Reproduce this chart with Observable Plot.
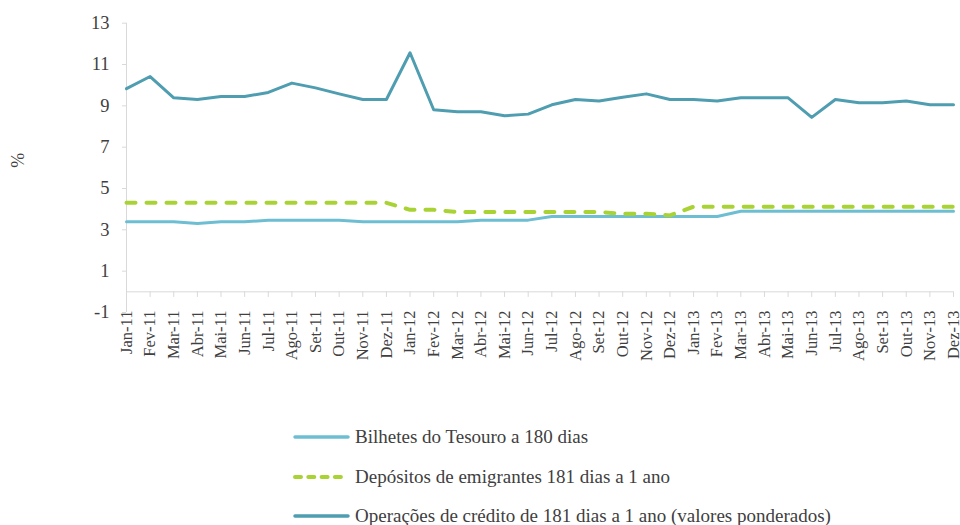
<!DOCTYPE html>
<html>
<head>
<meta charset="utf-8">
<script src="https://cdn.jsdelivr.net/npm/d3@7"></script>
<script src="https://cdn.jsdelivr.net/npm/@observablehq/plot@0.6"></script>
<style>
  body { margin: 0; background: #fff; }
  #wrap { position: relative; width: 960px; height: 525px; font-family: "Liberation Serif", "DejaVu Serif", serif; color: #404040; }
  .leg { position: absolute; left: 293px; height: 24px; display: flex; align-items: center; font-size: 19px; white-space: nowrap; }
  .leg svg { margin-right: 5px; }
</style>
</head>
<body>
<div id="wrap"></div>
<script>
const months = ["Jan-11","Fev-11","Mar-11","Abr-11","Mai-11","Jun-11","Jul-11","Ago-11","Set-11","Out-11","Nov-11","Dez-11",
  "Jan-12","Fev-12","Mar-12","Abr-12","Mai-12","Jun-12","Jul-12","Ago-12","Set-12","Out-12","Nov-12","Dez-12",
  "Jan-13","Fev-13","Mar-13","Abr-13","Mai-13","Jun-13","Jul-13","Ago-13","Set-13","Out-13","Nov-13","Dez-13"];

const bilhetes = [3.39,3.39,3.39,3.31,3.39,3.39,3.47,3.47,3.47,3.47,3.39,3.39,
  3.39,3.39,3.39,3.47,3.47,3.47,3.65,3.65,3.65,3.65,3.65,3.65,
  3.65,3.65,3.90,3.90,3.90,3.90,3.90,3.90,3.90,3.90,3.90,3.90];

const depositos = [4.31,4.31,4.31,4.31,4.31,4.31,4.31,4.31,4.31,4.31,4.31,4.31,
  3.97,3.97,3.86,3.86,3.86,3.86,3.86,3.86,3.86,3.78,3.78,3.70,
  4.12,4.12,4.12,4.12,4.12,4.12,4.12,4.12,4.12,4.12,4.12,4.12];

const operacoes = [9.83,10.42,9.39,9.31,9.45,9.45,9.65,10.10,9.87,9.58,9.31,9.31,
  11.57,8.81,8.71,8.71,8.52,8.60,9.05,9.31,9.23,9.42,9.58,9.31,
  9.31,9.23,9.39,9.39,9.39,8.44,9.31,9.15,9.15,9.24,9.05,9.05];

const yTicks = [-1,1,3,5,7,9,11,13];

const seriesNames = ["Bilhetes do Tesouro a 180 dias",
  "Depósitos de emigrantes 181 dias a 1 ano",
  "Operações de crédito de 181 dias a 1 ano (valores ponderados)"];

const idx = months.map((m, i) => i);
const toRows = (vals) => months.map((m, i) => ({i, month: m, value: vals[i]}));

const gridColor = "#d9d9d9";
const textColor = "#404040";
const cBil = "#6dbed3", cDep = "#a9d334", cOp = "#4f9db0";
const fontFam = "'Liberation Serif', 'DejaVu Serif', serif";

const chart = Plot.plot({
  width: 960,
  height: 410,
  marginTop: 22.7,
  marginBottom: 98,
  marginLeft: 126,
  marginRight: 7,
  style: {fontFamily: fontFam, color: textColor, background: "#fff"},
  x: {domain: [0, months.length - 1]},
  y: {domain: [-1, 13]},
  marks: [
    Plot.ruleX([0], {stroke: gridColor, strokeWidth: 1}),
    Plot.axisY({ticks: yTicks, tickSize: 4, tickPadding: 13, fontSize: 18.5, stroke: gridColor, fill: textColor, label: null, tickFormat: d => String(d)}),
    Plot.ruleY([0], {stroke: gridColor, strokeWidth: 1}),
    Plot.ruleX(idx, {x: d => d, y1: 0, y2: -0.27, stroke: gridColor, strokeWidth: 1}),
    Plot.axisX({ticks: idx, tickFormat: i => months[i], tickSize: 0, tickRotate: -90, tickPadding: -2, fontSize: 16.5, fill: textColor, label: null}),
    Plot.text(["%"], {frameAnchor: "left", dx: -108, rotate: -90, fontSize: 18, fill: textColor}),
    Plot.line(toRows(bilhetes), {x: "i", y: "value", stroke: cBil, strokeWidth: 3}),
    Plot.line(toRows(depositos), {x: "i", y: "value", stroke: cDep, strokeWidth: 4, strokeDasharray: "9,11", strokeLinecap: "round"}),
    Plot.line(toRows(operacoes), {x: "i", y: "value", stroke: cOp, strokeWidth: 3})
  ]
});

const wrap = document.getElementById("wrap");
wrap.appendChild(chart);

const legendItems = [
  {name: seriesNames[0], color: cBil, dash: null, top: 425},
  {name: seriesNames[1], color: cDep, dash: "6,7.3", top: 465},
  {name: seriesNames[2], color: cOp, dash: null, top: 504}
];
for (const it of legendItems) {
  const div = document.createElement("div");
  div.className = "leg";
  div.style.top = it.top + "px";
  div.innerHTML = `<svg width="57" height="10"><line x1="2" y1="5" x2="55" y2="5" stroke="${it.color}" stroke-width="${it.dash ? 4 : 3.5}" stroke-linecap="round" ${it.dash ? `stroke-dasharray="${it.dash}"` : ""}/></svg><span>${it.name}</span>`;
  wrap.appendChild(div);
}
</script>
</body>
</html>
